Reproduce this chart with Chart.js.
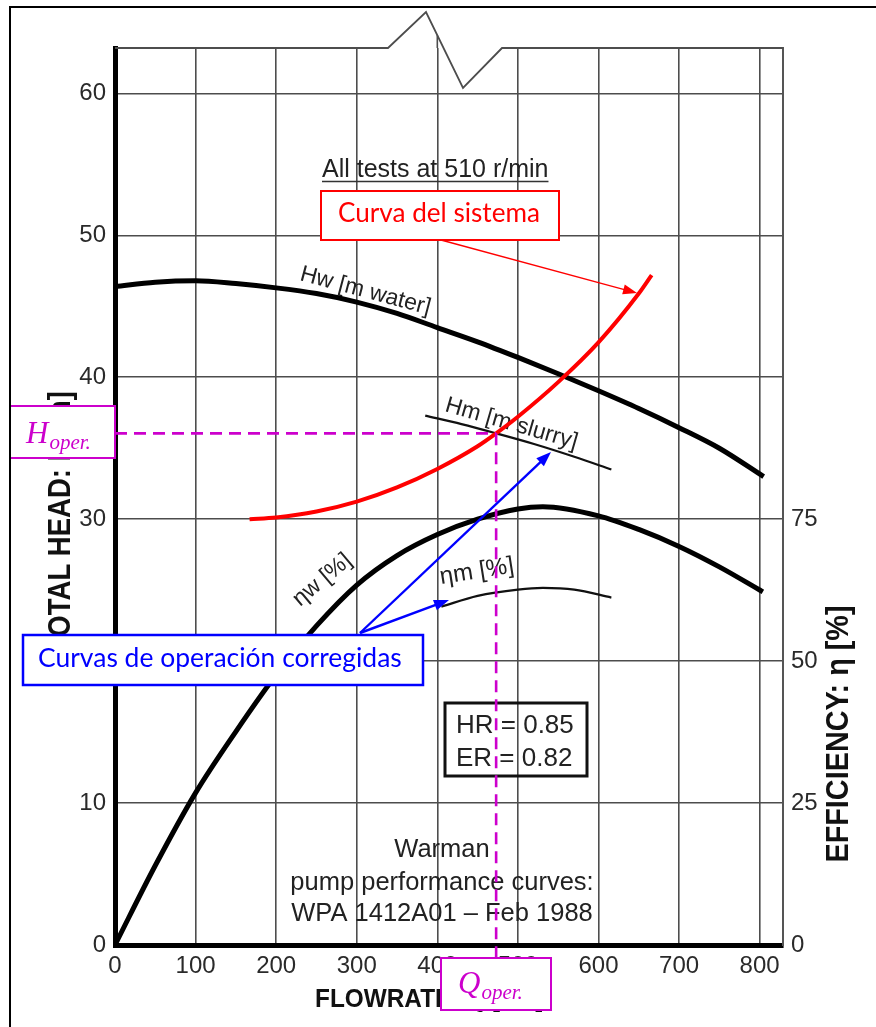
<!DOCTYPE html>
<html>
<head>
<meta charset="utf-8">
<script src="https://cdn.jsdelivr.net/npm/chart.js@4.4.1/dist/chart.umd.min.js"></script>
<style>
  html, body { margin: 0; padding: 0; background: #fff; overflow: hidden; }
  canvas { display: block; }
</style>
</head>
<body>
<canvas id="pump" width="876" height="1027"></canvas>
<script>
// Axis tick values
const flowTicks = [0, 100, 200, 300, 400, 500, 600, 700, 800];
const headTicks = [0, 10, 20, 30, 40, 50, 60];
const effTicks = [0, 25, 50, 75];

// Water head curve Hw [m]
const flowHw = [0, 50, 100, 150, 200, 250, 300, 350, 400, 450, 500, 550, 600, 650, 700, 750, 805];
const headHw = [46.4, 46.7, 46.8, 46.6, 46.3, 45.9, 45.3, 44.5, 43.5, 42.5, 41.4, 40.25, 39.05, 37.8, 36.45, 35.0, 33.0];

// Water efficiency curve ηw [%]
const flowEw = [0, 50, 100, 150, 200, 250, 300, 350, 400, 450, 500, 531, 600, 650, 700, 750, 804];
const effEw = [0, 14, 26.8, 37.6, 47.6, 56.2, 63.4, 68.6, 72.3, 75, 76.8, 77.2, 75.6, 73.2, 70.2, 66.6, 62.2];

// Slurry head curve Hm [m]
const flowHm = [385, 430, 473, 520, 570, 616];
const headHm = [37.3, 36.7, 36.05, 35.3, 34.4, 33.5];

// Slurry efficiency curve ηm [%]
const flowEm = [405, 450, 500, 531, 570, 616];
const effEm = [59.6, 61.5, 62.6, 62.9, 62.6, 61.2];

// System curve [m]
const flowSys = [167, 200, 250, 300, 350, 400, 450, 473, 500, 550, 600, 650, 666];
const headSys = [30.0, 30.12, 30.54, 31.24, 32.24, 33.54, 35.14, 36.05, 37.22, 39.66, 42.46, 45.9, 47.2];

// Operating point (system curve ∩ slurry head)
const opFlow = [473];
const opHead = [36.05];

const pts = (xs, ys) => xs.map((x, i) => ({ x, y: ys[i] }));

const SANS = '"Liberation Sans", Arial, sans-serif';
const CALLOUT = 'Lato, "Open Sans", sans-serif';
const MATH = '"Liberation Serif", "DejaVu Serif", serif';
const MAGENTA = '#cc00cc';

function drawText(ctx, str, x, y, o) {
  ctx.save();
  ctx.translate(x, y);
  ctx.rotate((o.angle || 0) * Math.PI / 180);
  ctx.scale(o.sx || 1, 1);
  ctx.font = o.font;
  ctx.fillStyle = o.color || '#222';
  ctx.textAlign = o.align || 'left';
  ctx.textBaseline = o.baseline || 'alphabetic';
  ctx.fillText(str, 0, 0);
  ctx.restore();
}

// font size that makes a string span a given width
function fitSize(ctx, str, family, width, weight) {
  ctx.save();
  ctx.font = (weight || '') + ' 20px ' + family;
  const w = ctx.measureText(str).width;
  ctx.restore();
  return 20 * width / w;
}

function arrow(ctx, x1, y1, x2, y2, color, lw, hl, hw) {
  const a = Math.atan2(y2 - y1, x2 - x1);
  ctx.save();
  ctx.strokeStyle = color;
  ctx.fillStyle = color;
  ctx.lineWidth = lw;
  ctx.beginPath();
  ctx.moveTo(x1, y1);
  ctx.lineTo(x2 - Math.cos(a) * hl * 0.8, y2 - Math.sin(a) * hl * 0.8);
  ctx.stroke();
  ctx.beginPath();
  ctx.moveTo(x2, y2);
  ctx.lineTo(x2 - Math.cos(a) * hl - Math.sin(a) * hw / 2, y2 - Math.sin(a) * hl + Math.cos(a) * hw / 2);
  ctx.lineTo(x2 - Math.cos(a) * hl + Math.sin(a) * hw / 2, y2 - Math.sin(a) * hl - Math.cos(a) * hw / 2);
  ctx.closePath();
  ctx.fill();
  ctx.restore();
}

function calloutBox(ctx, x, y, w, h, color, lw) {
  ctx.save();
  ctx.fillStyle = '#fff';
  ctx.fillRect(x, y, w, h);
  ctx.strokeStyle = color;
  ctx.lineWidth = lw;
  ctx.strokeRect(x, y, w, h);
  ctx.restore();
}

function subLabel(ctx, main, sub, x, y, color) {
  ctx.save();
  ctx.fillStyle = color;
  ctx.textBaseline = 'alphabetic';
  ctx.font = 'italic 31px ' + MATH;
  ctx.fillText(main, x, y);
  const w = ctx.measureText(main).width;
  ctx.font = 'italic 21px ' + MATH;
  ctx.fillText(sub, x + w + 1, y + 6);
  ctx.restore();
}

const decor = {
  id: 'decor',
  beforeDatasetsDraw(chart) {
    const ctx = chart.ctx;
    const ca = chart.chartArea;
    const xs = chart.scales.x;

    // top frame line with break mark
    const z = [[388, ca.top], [426, 12], [463, 88], [502, ca.top]];
    ctx.save();
    ctx.strokeStyle = '#4d4d4d';
    ctx.lineWidth = 1.8;
    ctx.beginPath();
    ctx.moveTo(ca.left, ca.top);
    z.forEach(p => ctx.lineTo(p[0], p[1]));
    ctx.lineTo(ca.right, ca.top);
    ctx.stroke();
    // 400 grid line runs up to the break mark
    const gx = xs.getPixelForValue(400);
    const gy = z[1][1] + (gx - z[1][0]) / (z[2][0] - z[1][0]) * (z[2][1] - z[1][1]);
    ctx.lineWidth = 1.6;
    ctx.beginPath();
    ctx.moveTo(gx, ca.top);
    ctx.lineTo(gx, gy);
    ctx.stroke();
    ctx.restore();

    // heading
    ctx.save();
    ctx.font = '25px ' + SANS;
    const hw = ctx.measureText('All tests at 510 r/min').width;
    ctx.restore();
    drawText(ctx, 'All tests at 510 r/min', 322, 177, { font: '25px ' + SANS, color: '#222' });
    ctx.save();
    ctx.strokeStyle = '#333';
    ctx.lineWidth = 1.6;
    ctx.beginPath();
    ctx.moveTo(322, 181.5);
    ctx.lineTo(322 + hw, 181.5);
    ctx.stroke();
    ctx.restore();

    // curve labels
    drawText(ctx, 'Hw [m water]', 299, 280, { font: '23px ' + SANS, color: '#222', angle: 14.9 });
    drawText(ctx, 'Hm [m slurry]', 444, 411, { font: '23px ' + SANS, color: '#222', angle: 16.1 });
    drawText(ctx, 'ηw [%]', 300, 607, { font: '23px ' + SANS, color: '#222', angle: -40 });
    drawText(ctx, 'ηm [%]', 441, 584, { font: '24px ' + SANS, color: '#222', angle: -9 });

    // ratio box
    ctx.save();
    ctx.strokeStyle = '#111';
    ctx.lineWidth = 3;
    ctx.strokeRect(445, 703, 142, 73);
    ctx.restore();
    drawText(ctx, 'HR = 0.85', 456, 733, { font: '26px ' + SANS, color: '#222' });
    drawText(ctx, 'ER = 0.82', 456, 766, { font: '26px ' + SANS, color: '#222' });

    // source note
    drawText(ctx, 'Warman', 442, 857, { font: '25.5px ' + SANS, color: '#222', align: 'center' });
    drawText(ctx, 'pump performance curves:', 442, 890, { font: '25.5px ' + SANS, color: '#222', align: 'center' });
    drawText(ctx, 'WPA 1412A01 – Feb 1988', 442, 921, { font: '25.5px ' + SANS, color: '#222', align: 'center' });

    // axis titles
    drawText(ctx, 'TOTAL HEAD: H [m]', 70, 522, { font: 'bold 32px ' + SANS, color: '#111', angle: -90, align: 'center', sx: 0.86 });
    drawText(ctx, 'EFFICIENCY: η [%]', 848, 734, { font: 'bold 32px ' + SANS, color: '#111', angle: -90, align: 'center', sx: 0.9 });
    drawText(ctx, 'FLOWRATE: Q [L/s]', 315, 1007, { font: 'bold 26.5px ' + SANS, color: '#111', sx: 0.92 });
  },
  afterDatasetsDraw(chart) {
    const ctx = chart.ctx;
    const xs = chart.scales.x;
    const ys = chart.scales.y;
    const qBox = { x: 441, y: 958, w: 110, h: 52 };
    const hBox = { x: 10, y: 406, w: 105, h: 52 };

    // operating point guides
    const px = xs.getPixelForValue(opFlow[0]);
    const py = ys.getPixelForValue(opHead[0]);
    ctx.save();
    ctx.strokeStyle = MAGENTA;
    ctx.lineWidth = 2.6;
    ctx.setLineDash([12, 7]);
    ctx.beginPath();
    ctx.moveTo(xs.getPixelForValue(0), py);
    ctx.lineTo(px, py);
    ctx.stroke();
    ctx.beginPath();
    ctx.moveTo(px, py);
    ctx.lineTo(px, qBox.y);
    ctx.stroke();
    ctx.restore();

    // pointers
    arrow(ctx, 441, 240, 637, 293, '#ff0000', 1.3, 14, 10);
    arrow(ctx, 360, 633, 551, 452, '#0000ff', 2.4, 15, 11);
    arrow(ctx, 360, 633, 449, 600, '#0000ff', 2.4, 15, 11);

    // callouts
    calloutBox(ctx, 321, 191, 238, 49, '#ff0000', 2);
    const rs = fitSize(ctx, 'Curva del sistema', CALLOUT, 202);
    drawText(ctx, 'Curva del sistema', 338, 222, { font: rs + 'px ' + CALLOUT, color: '#ff0000' });

    calloutBox(ctx, 23, 635, 400, 50, '#0000ff', 2.5);
    const bs = fitSize(ctx, 'Curvas de operación corregidas', CALLOUT, 364);
    drawText(ctx, 'Curvas de operación corregidas', 38, 667, { font: bs + 'px ' + CALLOUT, color: '#0000ff' });

    calloutBox(ctx, hBox.x, hBox.y, hBox.w, hBox.h, MAGENTA, 2);
    subLabel(ctx, 'H', 'oper.', 26, 443, MAGENTA);
    calloutBox(ctx, qBox.x, qBox.y, qBox.w, qBox.h, MAGENTA, 2);
    subLabel(ctx, 'Q', 'oper.', 458, 993, MAGENTA);
  },
  afterDraw(chart) {
    const ctx = chart.ctx;
    ctx.save();
    ctx.strokeStyle = '#000';
    ctx.lineWidth = 2;
    ctx.beginPath();
    ctx.moveTo(10, 1027);
    ctx.lineTo(10, 7);
    ctx.lineTo(876, 7);
    ctx.stroke();
    ctx.restore();
  }
};

const gridOpts = { color: '#4d4d4d', lineWidth: 1.6, drawTicks: false };
const tickFont = { family: SANS, size: 24 };
const smooth = { tension: 0.4, cubicInterpolationMode: 'monotone', pointRadius: 0, fill: false };

new Chart(document.getElementById('pump'), {
  type: 'line',
  data: {
    datasets: [
      { label: 'Curva del sistema', data: pts(flowSys, headSys), yAxisID: 'y', borderColor: '#ff0000', borderWidth: 4, order: 0, ...smooth },
      { label: 'Hw [m water]', data: pts(flowHw, headHw), yAxisID: 'y', borderColor: '#000', borderWidth: 5, order: 2, ...smooth },
      { label: 'ηw [%]', data: pts(flowEw, effEw), yAxisID: 'y2', borderColor: '#000', borderWidth: 5, order: 2, ...smooth },
      { label: 'Hm [m slurry]', data: pts(flowHm, headHm), yAxisID: 'y', borderColor: '#111', borderWidth: 2.2, order: 1, ...smooth },
      { label: 'ηm [%]', data: pts(flowEm, effEm), yAxisID: 'y2', borderColor: '#111', borderWidth: 2.2, order: 1, ...smooth }
    ]
  },
  options: {
    responsive: false,
    animation: false,
    devicePixelRatio: 1,
    layout: { padding: { top: 48, left: 0, right: 0, bottom: 0 } },
    elements: {
      point: { radius: 0, hoverRadius: 0 },
      line: { borderCapStyle: 'butt' }
    },
    plugins: { legend: { display: false }, tooltip: { enabled: false }, title: { display: false } },
    events: [],
    scales: {
      x: {
        type: 'linear', min: 0, max: 829,
        afterBuildTicks: s => { s.ticks = flowTicks.map(v => ({ value: v })); },
        afterFit: s => { s.height = 82; },
        grid: gridOpts,
        border: { color: '#000', width: 5 },
        ticks: { font: tickFont, color: '#2a2a2a', padding: 7, maxRotation: 0, autoSkip: false }
      },
      y: {
        type: 'linear', position: 'left', min: 0, max: 63.2,
        afterBuildTicks: s => { s.ticks = headTicks.map(v => ({ value: v })); },
        afterFit: s => { s.width = 115; },
        grid: gridOpts,
        border: { color: '#000', width: 5 },
        ticks: { font: tickFont, color: '#2a2a2a', padding: 9 }
      },
      y2: {
        type: 'linear', position: 'right', min: 0, max: 158,
        afterBuildTicks: s => { s.ticks = effTicks.map(v => ({ value: v })); },
        afterFit: s => { s.width = 93; },
        grid: { drawOnChartArea: false, drawTicks: false },
        border: { color: '#555', width: 2 },
        ticks: { font: tickFont, color: '#2a2a2a', padding: 8 }
      }
    }
  },
  plugins: [decor]
});
</script>
</body>
</html>
